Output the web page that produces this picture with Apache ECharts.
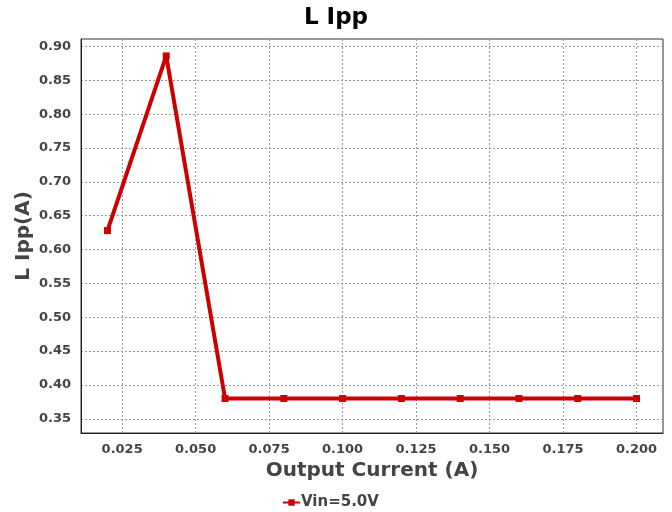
<!DOCTYPE html>
<html>
<head>
<meta charset="utf-8">
<script src="https://cdn.jsdelivr.net/npm/echarts@6/dist/echarts.min.js"></script>
<style>
  html, body { margin: 0; padding: 0; background: #fff; }
  #chart { width: 672px; height: 512px; }
</style>
</head>
<body>
<div id="chart"></div>
<script>
// Inductor peak-to-peak ripple current vs. output current
const outputCurrent = [0.02, 0.04, 0.06, 0.08, 0.10, 0.12, 0.14, 0.16, 0.18, 0.20];
const rippleVin5 = [0.628, 0.886, 0.380, 0.380, 0.380, 0.380, 0.380, 0.380, 0.380, 0.380];
const xTicks = [0.025, 0.050, 0.075, 0.100, 0.125, 0.150, 0.175, 0.200];
const yTicks = [0.35, 0.40, 0.45, 0.50, 0.55, 0.60, 0.65, 0.70, 0.75, 0.80, 0.85, 0.90];
const seriesName = 'Vin=5.0V';

const font = 'DejaVu Sans';
const textColor = '#444';
const gridLine = { show: true, lineStyle: { color: '#999', type: [2, 2], width: 1 } };

const chart = echarts.init(document.getElementById('chart'));
chart.setOption({
  animation: false,
  backgroundColor: '#fff',
  title: {
    text: 'L Ipp',
    left: 'center',
    top: 2,
    textStyle: { fontFamily: font, fontSize: 23, fontWeight: 'bold', color: '#000' }
  },
  grid: { left: 81, right: 9, top: 39, bottom: 79, show: true, borderColor: '#333', borderWidth: 1 },
  xAxis: {
    type: 'value',
    min: 0.011,
    max: 0.209,
    name: 'Output Current (A)',
    nameLocation: 'middle',
    nameGap: 28,
    nameMoveOverlap: false,
    nameTextStyle: { fontFamily: font, fontSize: 20, fontWeight: 'bold', color: textColor },
    axisLine: { show: true, lineStyle: { color: '#222', width: 1 } },
    axisTick: { show: false, customValues: xTicks },
    axisLabel: {
      customValues: xTicks,
      fontFamily: font, fontSize: 13, fontWeight: 'bold', color: textColor, margin: 10,
      formatter: v => v.toFixed(3)
    },
    splitLine: gridLine
  },
  yAxis: {
    type: 'value',
    min: 0.329,
    max: 0.911,
    name: 'L Ipp(A)',
    nameLocation: 'middle',
    nameGap: 47,
    nameMoveOverlap: false,
    nameTextStyle: { fontFamily: font, fontSize: 20, fontWeight: 'bold', color: textColor },
    axisLine: { show: true, lineStyle: { color: '#222', width: 1 } },
    axisTick: { show: false, customValues: yTicks },
    axisLabel: {
      customValues: yTicks,
      fontFamily: font, fontSize: 13, fontWeight: 'bold', color: textColor, margin: 10,
      formatter: v => v.toFixed(2)
    },
    splitLine: gridLine
  },
  legend: {
    top: 490,
    left: 277,
    itemWidth: 17,
    itemHeight: 8,
    itemGap: 2,
    textStyle: { fontFamily: font, fontSize: 15, fontWeight: 'bold', color: textColor, padding: [0, 0, 0, -4] },
    data: [seriesName]
  },
  series: [{
    name: seriesName,
    type: 'line',
    data: outputCurrent.map((x, i) => [x, rippleVin5[i]]),
    color: '#cc0000',
    lineStyle: { width: 4, color: '#cc0000' },
    symbol: 'rect',
    symbolSize: 7,
    itemStyle: { color: '#cc0000' }
  }]
});
</script>
</body>
</html>
